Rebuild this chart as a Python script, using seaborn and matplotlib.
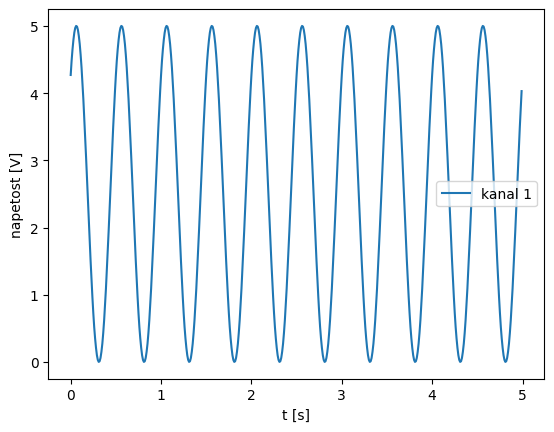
import numpy as np
import matplotlib
matplotlib.use("Agg")
import matplotlib.pyplot as plt
import seaborn as sns

# sampling: 100 Hz, 5 s
sample_dt = 0.01

# voltage on channel 1 (one row per 0.5 s)
kanal_1 = [
    4.27, 4.48, 4.65, 4.79, 4.90, 4.97, 5.00, 4.99, 4.94, 4.85, 4.73, 4.57, 4.38, 4.15, 3.91, 3.63, 3.35, 3.05, 2.74, 2.42, 2.11, 1.80, 1.51, 1.23, 0.97,
    0.73, 0.52, 0.35, 0.21, 0.10, 0.03, 0.00, 0.01, 0.06, 0.15, 0.27, 0.43, 0.62, 0.85, 1.09, 1.37, 1.65, 1.95, 2.26, 2.58, 2.89, 3.20, 3.49, 3.77, 4.03,
    4.27, 4.48, 4.65, 4.79, 4.90, 4.97, 5.00, 4.99, 4.94, 4.85, 4.73, 4.57, 4.38, 4.15, 3.91, 3.63, 3.35, 3.05, 2.74, 2.42, 2.11, 1.80, 1.51, 1.23, 0.97,
    0.73, 0.52, 0.35, 0.21, 0.10, 0.03, 0.00, 0.01, 0.06, 0.15, 0.27, 0.43, 0.62, 0.85, 1.09, 1.37, 1.65, 1.95, 2.26, 2.58, 2.89, 3.20, 3.49, 3.77, 4.03,
    4.27, 4.48, 4.65, 4.79, 4.90, 4.97, 5.00, 4.99, 4.94, 4.85, 4.73, 4.57, 4.38, 4.15, 3.91, 3.63, 3.35, 3.05, 2.74, 2.42, 2.11, 1.80, 1.51, 1.23, 0.97,
    0.73, 0.52, 0.35, 0.21, 0.10, 0.03, 0.00, 0.01, 0.06, 0.15, 0.27, 0.43, 0.62, 0.85, 1.09, 1.37, 1.65, 1.95, 2.26, 2.58, 2.89, 3.20, 3.49, 3.77, 4.03,
    4.27, 4.48, 4.65, 4.79, 4.90, 4.97, 5.00, 4.99, 4.94, 4.85, 4.73, 4.57, 4.38, 4.15, 3.91, 3.63, 3.35, 3.05, 2.74, 2.42, 2.11, 1.80, 1.51, 1.23, 0.97,
    0.73, 0.52, 0.35, 0.21, 0.10, 0.03, 0.00, 0.01, 0.06, 0.15, 0.27, 0.43, 0.62, 0.85, 1.09, 1.37, 1.65, 1.95, 2.26, 2.58, 2.89, 3.20, 3.49, 3.77, 4.03,
    4.27, 4.48, 4.65, 4.79, 4.90, 4.97, 5.00, 4.99, 4.94, 4.85, 4.73, 4.57, 4.38, 4.15, 3.91, 3.63, 3.35, 3.05, 2.74, 2.42, 2.11, 1.80, 1.51, 1.23, 0.97,
    0.73, 0.52, 0.35, 0.21, 0.10, 0.03, 0.00, 0.01, 0.06, 0.15, 0.27, 0.43, 0.62, 0.85, 1.09, 1.37, 1.65, 1.95, 2.26, 2.58, 2.89, 3.20, 3.49, 3.77, 4.03,
    4.27, 4.48, 4.65, 4.79, 4.90, 4.97, 5.00, 4.99, 4.94, 4.85, 4.73, 4.57, 4.38, 4.15, 3.91, 3.63, 3.35, 3.05, 2.74, 2.42, 2.11, 1.80, 1.51, 1.23, 0.97,
    0.73, 0.52, 0.35, 0.21, 0.10, 0.03, 0.00, 0.01, 0.06, 0.15, 0.27, 0.43, 0.62, 0.85, 1.09, 1.37, 1.65, 1.95, 2.26, 2.58, 2.89, 3.20, 3.49, 3.77, 4.03,
    4.27, 4.48, 4.65, 4.79, 4.90, 4.97, 5.00, 4.99, 4.94, 4.85, 4.73, 4.57, 4.38, 4.15, 3.91, 3.63, 3.35, 3.05, 2.74, 2.42, 2.11, 1.80, 1.51, 1.23, 0.97,
    0.73, 0.52, 0.35, 0.21, 0.10, 0.03, 0.00, 0.01, 0.06, 0.15, 0.27, 0.43, 0.62, 0.85, 1.09, 1.37, 1.65, 1.95, 2.26, 2.58, 2.89, 3.20, 3.49, 3.77, 4.03,
    4.27, 4.48, 4.65, 4.79, 4.90, 4.97, 5.00, 4.99, 4.94, 4.85, 4.73, 4.57, 4.38, 4.15, 3.91, 3.63, 3.35, 3.05, 2.74, 2.42, 2.11, 1.80, 1.51, 1.23, 0.97,
    0.73, 0.52, 0.35, 0.21, 0.10, 0.03, 0.00, 0.01, 0.06, 0.15, 0.27, 0.43, 0.62, 0.85, 1.09, 1.37, 1.65, 1.95, 2.26, 2.58, 2.89, 3.20, 3.49, 3.77, 4.03,
    4.27, 4.48, 4.65, 4.79, 4.90, 4.97, 5.00, 4.99, 4.94, 4.85, 4.73, 4.57, 4.38, 4.15, 3.91, 3.63, 3.35, 3.05, 2.74, 2.42, 2.11, 1.80, 1.51, 1.23, 0.97,
    0.73, 0.52, 0.35, 0.21, 0.10, 0.03, 0.00, 0.01, 0.06, 0.15, 0.27, 0.43, 0.62, 0.85, 1.09, 1.37, 1.65, 1.95, 2.26, 2.58, 2.89, 3.20, 3.49, 3.77, 4.03,
    4.27, 4.48, 4.65, 4.79, 4.90, 4.97, 5.00, 4.99, 4.94, 4.85, 4.73, 4.57, 4.38, 4.15, 3.91, 3.63, 3.35, 3.05, 2.74, 2.42, 2.11, 1.80, 1.51, 1.23, 0.97,
    0.73, 0.52, 0.35, 0.21, 0.10, 0.03, 0.00, 0.01, 0.06, 0.15, 0.27, 0.43, 0.62, 0.85, 1.09, 1.37, 1.65, 1.95, 2.26, 2.58, 2.89, 3.20, 3.49, 3.77, 4.03,
]

t = np.arange(len(kanal_1)) * sample_dt

fig, ax = plt.subplots(figsize=(6.4, 4.8), dpi=100)
sns.lineplot(x=t, y=kanal_1, ax=ax, label="kanal 1", color="#1f77b4")

ax.set_xlabel("t [s]")
ax.set_ylabel("napetost [V]")
ax.legend(loc="center right")

fig.savefig("out.png", bbox_inches="tight")
